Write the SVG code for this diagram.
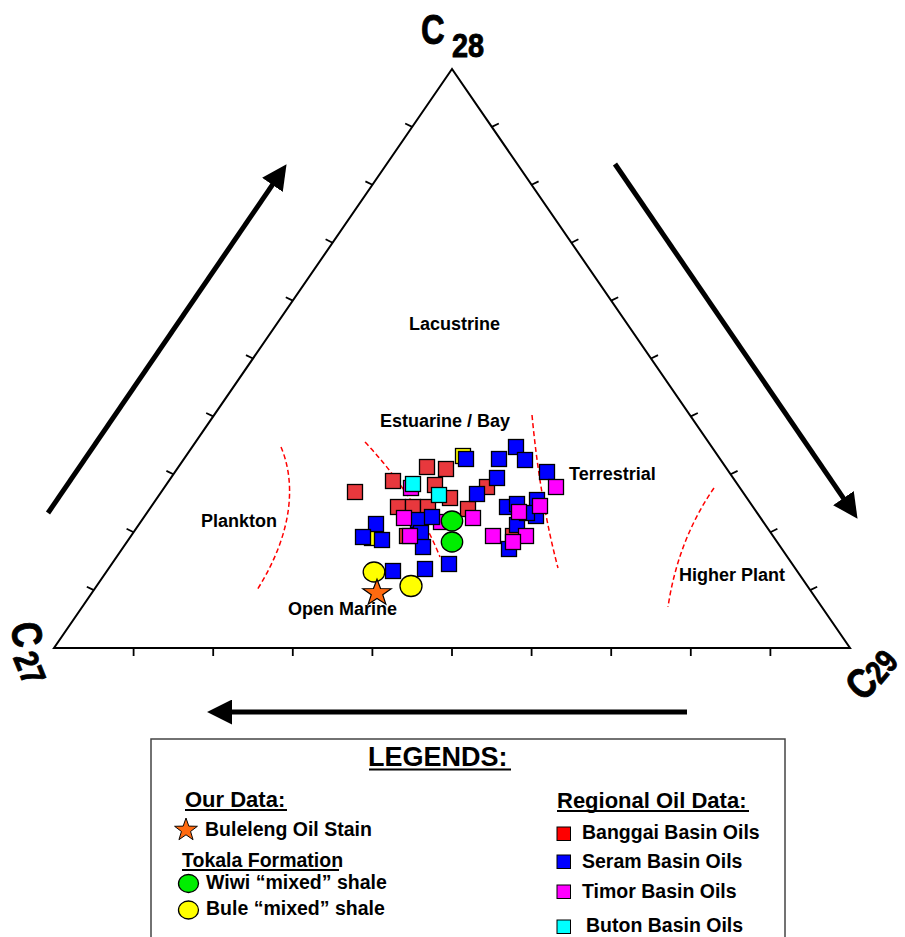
<svg xmlns="http://www.w3.org/2000/svg" width="905" height="937" viewBox="0 0 905 937">
<style>
  .lbl { font-family: "Liberation Sans", Arial, sans-serif; font-weight: bold; fill: #000; }
  .corner { stroke: #000; stroke-width: 0.9; }
  .region { font-size: 18px; }
  .axis { fill: none; stroke: #000; stroke-width: 2; }
  .tick { stroke: #000; stroke-width: 1.8; }
  .arrow { stroke: #000; stroke-width: 5; fill: none; marker-end: url(#head); }
  .bound { fill: none; stroke: #ff0000; stroke-width: 1.5; stroke-dasharray: 5 3; }
  .pt { stroke: #000; stroke-width: 1.3; }
  .red { fill: #e8383d; }
  .blue { fill: #0000ff; }
  .mag { fill: #ff00ff; }
  .cyan { fill: #00ffff; }
  .ylw { fill: #ffff00; }
  .grn { fill: #00ee00; }
  .star { fill: #ff6a10; stroke: #000; stroke-width: 1.2; }
  .ul { stroke: #000; stroke-width: 1.8; }
  .leg { font-size: 19.5px; }
</style>
<defs>
  <marker id="head" viewBox="0 0 24 24" markerWidth="25" markerHeight="25" markerUnits="userSpaceOnUse" refX="2" refY="12" orient="auto">
    <path d="M0,0 L24,12 L0,24 z" fill="#000"/>
  </marker>
  <rect id="sq" x="-7.5" y="-7.5" width="15" height="15"/>
  <polygon id="starShape" points="0,-15 3.53,-4.85 14.27,-4.64 5.71,1.85 8.82,12.14 0,6 -8.82,12.14 -5.71,1.85 -14.27,-4.64 -3.53,-4.85"/>
</defs>

<!-- Triangle frame -->
<g id="triangle">
  <polygon class="axis" points="452,69 54,648 850,648"/>
  <g id="ticks-base">
    <line class="tick" x1="133.6" y1="648" x2="133.6" y2="656"/>
    <line class="tick" x1="213.2" y1="648" x2="213.2" y2="656"/>
    <line class="tick" x1="292.8" y1="648" x2="292.8" y2="656"/>
    <line class="tick" x1="372.4" y1="648" x2="372.4" y2="656"/>
    <line class="tick" x1="452" y1="648" x2="452" y2="656"/>
    <line class="tick" x1="531.6" y1="648" x2="531.6" y2="656"/>
    <line class="tick" x1="611.2" y1="648" x2="611.2" y2="656"/>
    <line class="tick" x1="690.8" y1="648" x2="690.8" y2="656"/>
    <line class="tick" x1="770.4" y1="648" x2="770.4" y2="656"/>
  </g>
  <g id="ticks-left">
    <line class="tick" x1="93.8" y1="590.1" x2="86.8" y2="586.7"/>
    <line class="tick" x1="133.6" y1="532.2" x2="126.6" y2="528.8"/>
    <line class="tick" x1="173.4" y1="474.3" x2="166.4" y2="470.9"/>
    <line class="tick" x1="213.2" y1="416.4" x2="206.2" y2="413"/>
    <line class="tick" x1="253" y1="358.5" x2="246" y2="355.1"/>
    <line class="tick" x1="292.8" y1="300.6" x2="285.8" y2="297.2"/>
    <line class="tick" x1="332.6" y1="242.7" x2="325.6" y2="239.3"/>
    <line class="tick" x1="372.4" y1="184.8" x2="365.4" y2="181.4"/>
    <line class="tick" x1="412.2" y1="126.9" x2="405.2" y2="123.5"/>
  </g>
  <g id="ticks-right">
    <line class="tick" x1="491.8" y1="126.9" x2="498.8" y2="123.5"/>
    <line class="tick" x1="531.6" y1="184.8" x2="538.6" y2="181.4"/>
    <line class="tick" x1="571.4" y1="242.7" x2="578.4" y2="239.3"/>
    <line class="tick" x1="611.2" y1="300.6" x2="618.2" y2="297.2"/>
    <line class="tick" x1="651" y1="358.5" x2="658" y2="355.1"/>
    <line class="tick" x1="690.8" y1="416.4" x2="697.8" y2="413"/>
    <line class="tick" x1="730.6" y1="474.3" x2="737.6" y2="470.9"/>
    <line class="tick" x1="770.4" y1="532.2" x2="777.4" y2="528.8"/>
    <line class="tick" x1="810.2" y1="590.1" x2="817.2" y2="586.7"/>
  </g>
</g>

<!-- Corner labels -->
<g id="label-c28" class="lbl corner">
  <text transform="translate(421,44) scale(0.78,1)" font-size="42">C</text>
  <text transform="translate(452,57) scale(0.85,1)" font-size="34">28</text>
</g>
<g id="label-c27" class="lbl corner">
  <text transform="translate(27.5,634.5) rotate(80) scale(0.82,1)" y="15" text-anchor="middle" font-size="42">C</text>
  <text transform="translate(30,668) rotate(68) scale(0.85,1)" y="12" text-anchor="middle" font-size="34">27</text>
</g>
<g id="label-c29" class="lbl corner">
  <text transform="translate(861,683) rotate(-45) scale(0.82,1)" y="15" text-anchor="middle" font-size="42">C</text>
  <text transform="translate(881,666) rotate(-50) scale(0.82,1)" y="12" text-anchor="middle" font-size="33">29</text>
</g>

<!-- Direction arrows -->
<g id="connectors">
  <line class="arrow" x1="48" y1="513" x2="273.6" y2="183.2"/>
  <line class="arrow" x1="615" y1="164" x2="844.6" y2="499.8"/>
  <line class="arrow" x1="687" y1="712" x2="230" y2="712"/>
</g>

<!-- Field boundaries -->
<g id="boundaries">
  <path class="bound" d="M281,447 C295,480 295,530 257,590"/>
  <path class="bound" d="M365,442 Q415,495 440,557"/>
  <path class="bound" d="M532,415 Q540,500 558,568"/>
  <path class="bound" d="M714,488 Q678,540 668,607"/>
</g>

<!-- Region labels -->
<g id="region-labels" class="lbl region">
  <text x="409" y="330">Lacustrine</text>
  <text x="380" y="427">Estuarine / Bay</text>
  <text x="201" y="527">Plankton</text>
  <text x="569" y="480">Terrestrial</text>
  <text x="679" y="581">Higher Plant</text>
  <text x="288" y="615">Open Marine</text>
</g>

<!-- Data points -->
<g id="data-points">
  <g id="hidden-yellow" class="pt ylw">
    <use href="#sq" x="463" y="456"/>
    <use href="#sq" x="372" y="538"/>
  </g>
  <g id="banggai-points" class="pt red">
    <use href="#sq" x="355" y="492"/>
    <use href="#sq" x="393" y="481"/>
    <use href="#sq" x="427" y="467"/>
    <use href="#sq" x="446" y="469"/>
    <use href="#sq" x="435" y="485"/>
    <use href="#sq" x="450" y="498"/>
    <use href="#sq" x="487" y="487"/>
    <use href="#sq" x="398" y="507"/>
    <use href="#sq" x="413" y="507"/>
    <use href="#sq" x="428" y="507"/>
    <use href="#sq" x="468" y="509"/>
    <use href="#sq" x="407" y="536"/>
    <use href="#sq" x="513" y="536"/>
  </g>
  <g id="timor-hidden" class="pt mag">
    <use href="#sq" x="411" y="488"/>
    <use href="#sq" x="441" y="522"/>
  </g>
  <g id="buton-points" class="pt cyan">
    <use href="#sq" x="413" y="484"/>
    <use href="#sq" x="439" y="495"/>
  </g>
  <g id="seram-points" class="pt blue">
    <use href="#sq" x="466" y="459"/>
    <use href="#sq" x="499" y="459"/>
    <use href="#sq" x="516" y="447"/>
    <use href="#sq" x="525" y="460"/>
    <use href="#sq" x="547" y="472"/>
    <use href="#sq" x="497" y="478"/>
    <use href="#sq" x="477" y="494"/>
    <use href="#sq" x="376" y="524"/>
    <use href="#sq" x="363" y="537"/>
    <use href="#sq" x="382" y="540"/>
    <use href="#sq" x="418" y="520"/>
    <use href="#sq" x="432" y="517"/>
    <use href="#sq" x="421" y="533"/>
    <use href="#sq" x="423" y="547"/>
    <use href="#sq" x="449" y="564"/>
    <use href="#sq" x="425" y="569"/>
    <use href="#sq" x="393" y="571"/>
    <use href="#sq" x="509" y="549"/>
    <use href="#sq" x="517" y="525"/>
    <use href="#sq" x="507" y="507"/>
    <use href="#sq" x="537" y="500"/>
    <use href="#sq" x="517" y="504"/>
    <use href="#sq" x="536" y="516"/>
    <use href="#sq" x="527" y="513"/>
  </g>
  <g id="timor-points" class="pt mag">
    <use href="#sq" x="556" y="487"/>
    <use href="#sq" x="404" y="518"/>
    <use href="#sq" x="473" y="518"/>
    <use href="#sq" x="519" y="512"/>
    <use href="#sq" x="540" y="506"/>
    <use href="#sq" x="410" y="536"/>
    <use href="#sq" x="493" y="536"/>
    <use href="#sq" x="526" y="536"/>
    <use href="#sq" x="513" y="542"/>
  </g>
  <g id="wiwi-points" class="pt grn">
    <ellipse cx="452" cy="521" rx="10.7" ry="10"/>
    <ellipse cx="452" cy="542" rx="10.7" ry="10"/>
  </g>
  <g id="bule-points" class="pt ylw">
    <ellipse cx="374" cy="572" rx="10.8" ry="10"/>
    <ellipse cx="411" cy="586" rx="11" ry="10.5"/>
  </g>
  <g id="buleleng-point">
    <use href="#starShape" class="star" transform="translate(377,593) scale(1,0.92)"/>
  </g>
</g>

<!-- Legend -->
<g id="legend">
  <rect x="151" y="739" width="634" height="220" fill="#fff" stroke="#444" stroke-width="1.5"/>
  <text class="lbl" x="368" y="766" font-size="27">LEGENDS:</text>
  <line class="ul" x1="369" y1="769.5" x2="511" y2="769.5"/>

  <g id="legend-our-data">
    <text class="lbl" x="185" y="807" font-size="22">Our Data:</text>
    <line class="ul" x1="185" y1="810" x2="287" y2="810"/>
    <use href="#starShape" class="star" transform="translate(186,830) scale(0.8,0.8)"/>
    <text class="lbl leg" x="205" y="836">Buleleng Oil Stain</text>
    <text class="lbl leg" x="182" y="867">Tokala Formation</text>
    <line class="ul" x1="182" y1="870" x2="339" y2="870"/>
    <ellipse class="pt grn" cx="188.5" cy="883.5" rx="10" ry="9"/>
    <text class="lbl leg" x="206" y="889">Wiwi “mixed” shale</text>
    <ellipse class="pt ylw" cx="188.5" cy="910" rx="10" ry="9"/>
    <text class="lbl leg" x="206" y="915">Bule “mixed” shale</text>
  </g>

  <g id="legend-regional">
    <text class="lbl" x="557" y="808" font-size="22">Regional Oil Data:</text>
    <line class="ul" x1="557" y1="811" x2="749" y2="811"/>
    <rect x="557" y="827" width="13.5" height="13.5" fill="#ff0000" stroke="#000" stroke-width="1"/>
    <text class="lbl leg" x="582" y="839">Banggai Basin Oils</text>
    <rect x="557" y="855" width="13.5" height="13.5" fill="#0000ff" stroke="#000" stroke-width="1"/>
    <text class="lbl leg" x="582" y="868">Seram Basin Oils</text>
    <rect x="557" y="885" width="13.5" height="13.5" fill="#ff00ff" stroke="#000" stroke-width="1"/>
    <text class="lbl leg" x="582" y="898">Timor Basin Oils</text>
    <rect x="557" y="920" width="13.5" height="13.5" fill="#00ffff" stroke="#000" stroke-width="1"/>
    <text class="lbl leg" x="586" y="932">Buton Basin Oils</text>
  </g>
</g>
</svg>
